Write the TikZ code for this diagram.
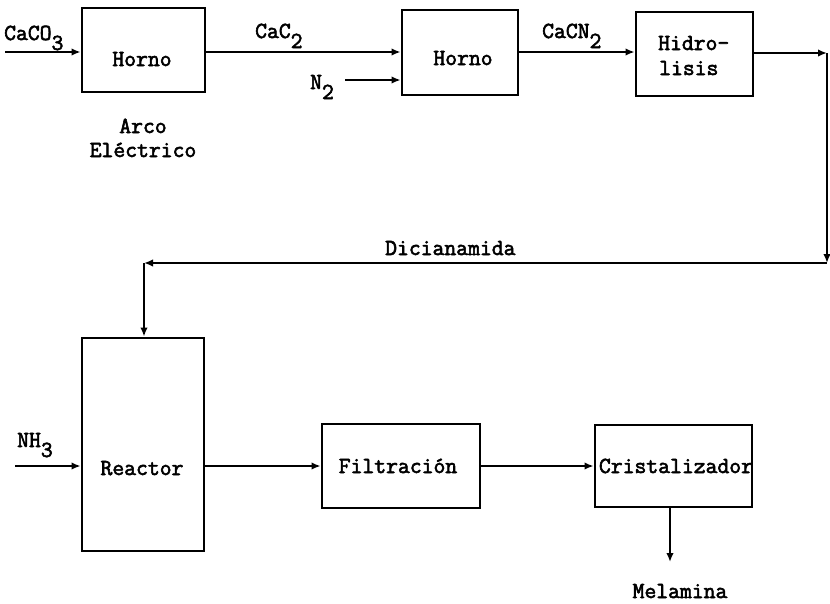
\documentclass[tikz,border=0pt]{standalone}
\usepackage{fontspec}
\newfontfamily\tw{Latin Modern Mono}[FakeBold=2.5]
\usetikzlibrary{arrows.meta}
\newcommand\lowsub[1]{\raisebox{-10pt}{#1}}
\begin{document}
\begin{tikzpicture}[x=1pt,y=-1pt,
  box/.style={draw,line width=2.8pt,inner sep=0pt},
  flow/.style={line width=2.3pt,-{Latex[length=9pt,width=7.5pt]}},
  txt/.style={font=\fontsize{23}{26}\tw,inner sep=0pt,anchor=base}]
\useasboundingbox (0,0) rectangle (830,603);
% boxes
\node[box,minimum width=123pt,minimum height=84pt] (h1) at (143.5,50) {};
\node[box,minimum width=116pt,minimum height=85pt] (h2) at (460,52.5) {};
\node[box,minimum width=117pt,minimum height=84pt] (hid) at (694.5,54) {};
\node[box,minimum width=122pt,minimum height=213pt] (reac) at (143,444.5) {};
\node[box,minimum width=158pt,minimum height=84pt] (fil) at (401,466) {};
\node[box,minimum width=157pt,minimum height=82pt] (cri) at (673.5,466) {};
% box texts
\node[txt] (h1t) at (142,66) {Horno};
\node[txt] (h2t) at (463,65) {Horno};
\node[txt,anchor=base west] (hidt1) at (658,50) {Hidro-};
\node[txt,anchor=base west] (hidt2) at (659,75) {lisis};
\node[txt] (react) at (142,475) {Reactor};
\node[txt] (filt) at (398,473) {Filtración};
\node[txt] (crit) at (676,473) {Cristalizador};
% labels
\node[txt,anchor=base west] (lcaco) at (4,40) {CaCO\lowsub{3}};
\node[txt,anchor=base west] (lcac) at (255,38) {CaC\lowsub{2}};
\node[txt,anchor=base west] (ln) at (310,89) {N\lowsub{2}};
\node[txt,anchor=base west] (lcacn) at (542,38) {CaCN\lowsub{2}};
\node[txt] (arco) at (143,133) {Arco};
\node[txt] (elec) at (143,157) {Eléctrico};
\node[txt,anchor=base west] (dic) at (385,255) {Dicianamida};
\node[txt,anchor=base west] (lnh) at (17,447) {NH\lowsub{3}};
\node[txt] (mel) at (680,598) {Melamina};
% connectors
\coordinate (inA) at (5,52);
\coordinate (inN) at (345,80);
\coordinate (c1) at (827,53);
\coordinate (c2) at (827,263);
\coordinate (c4) at (144,263);
\coordinate (inB) at (15,466);
\coordinate (outM) at (670,562);
\draw[flow] (inA) -- (inA -| h1.west);
\draw[flow] (h1.east |- inA) -- (inA -| h2.west);
\draw[flow] (inN) -- (inN -| h2.west);
\draw[flow] (h2.east |- inA) -- (inA -| hid.west);
\draw[flow] (hid.east |- c1) -- (c1);
\draw[flow] (c1) -- (c2);
\draw[flow] (c2) -- (c4);
\draw[flow] (c4) -- (c4 |- reac.north);
\draw[flow] (inB) -- (inB -| reac.west);
\draw[flow] (reac.east |- inB) -- (inB -| fil.west);
\draw[flow] (fil.east |- inB) -- (inB -| cri.west);
\draw[flow] (cri.south -| outM) -- (outM);
\end{tikzpicture}
\end{document}
